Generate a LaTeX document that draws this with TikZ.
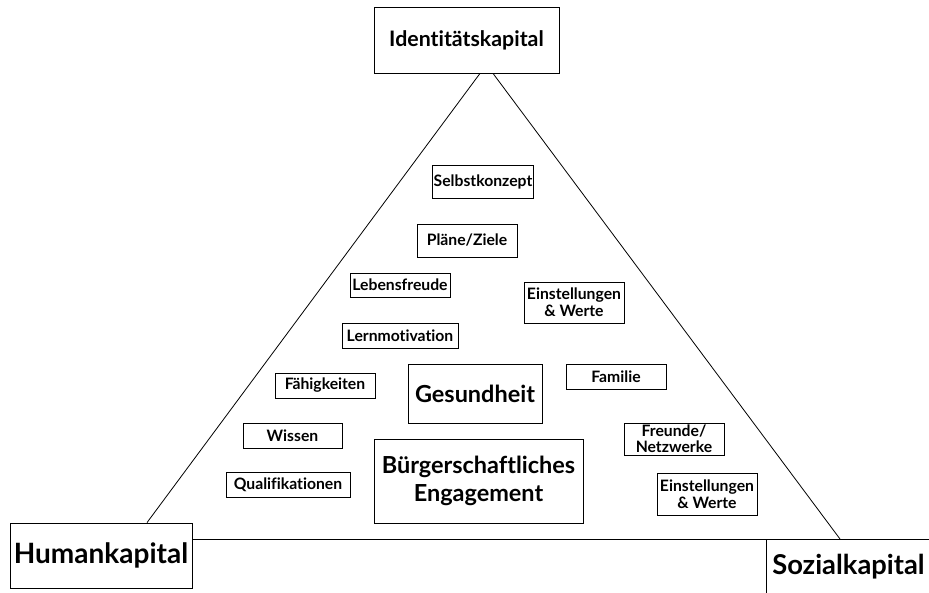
\documentclass[tikz,border=0pt]{standalone}
\usepackage{fontspec}
\setmainfont{Lato}[Ligatures=NoCommon]
\usetikzlibrary{calc,positioning}

\begin{document}
\begin{tikzpicture}
  [
    x=0.75pt,y=-0.75pt,
    every node/.style={font=\bfseries},
    item/.style={rectangle,draw=black,line width=0.6pt,inner sep=1pt,align=center,font=\bfseries\fontsize{11.8}{12.5}\selectfont,minimum width=75pt,minimum height=18.75pt},
    bigitem/.style={item,font=\bfseries\fontsize{17.6}{21.5}\selectfont},
    capital/.style={rectangle,draw=black,line width=0.6pt,inner sep=2pt,font=\bfseries\fontsize{21}{24}\selectfont},
    side/.style={draw=black,line width=0.6pt}
  ]
  \useasboundingbox (0,0) rectangle (929,593);

  % the three kinds of capital
  \node[capital,font=\bfseries\fontsize{16}{20}\selectfont,minimum width=138.75pt,minimum height=49.5pt] at (466.5,40) (ident) {Identitätskapital};
  \node[capital,minimum width=136.5pt,minimum height=48.75pt] at (101,555.5) (human) {Humankapital};
  \node[anchor=north west,inner xsep=4.5pt,inner ysep=0pt,minimum height=40.5pt,font=\bfseries\fontsize{20.5}{24}\selectfont] at (766,539) (sozial) {Sozialkapital};

  % what is inside the triangle
  \node[item,minimum height=24.75pt] at (483,181.5) (selbst) {Selbstkonzept};
  \node[item,minimum height=24.75pt] at (467,240.5) (plaene) {Pläne/Ziele};
  \node[item,minimum height=18pt] at (400,285) (lebens) {Lebensfreude};
  \node[item,minimum height=30.75pt] at (574,302.5) (werte oben) {Einstellungen\\\& Werte};
  \node[item,minimum width=87pt] at (400,335.5) (lern) {Lernmotivation};
  \node[item] at (325,385.5) (faehig) {Fähigkeiten};
  \node[item] at (616,376.5) (familie) {Familie};
  \node[item,minimum width=74.25pt] at (292.5,435.5) (wissen) {Wissen};
  \node[item,minimum width=93pt] at (288,484.5) (quali) {Qualifikationen};
  \node[item,minimum height=24pt,font=\bfseries\fontsize{11.8}{12}\selectfont] at (674,439) (freunde) {Freunde/\\Netzwerke};
  \node[item,minimum height=31.5pt] at (707,494) (werte unten) {Einstellungen\\\& Werte};
  \node[bigitem,minimum width=100.5pt,minimum height=44.25pt] at (475,393.5) (gesund) {Gesundheit};
  \node[bigitem,minimum width=156.75pt,minimum height=63pt] at (478.5,481) (buerger) {Bürgerschaftliches\\Engagement};

  % triangle and base
  \coordinate (base east) at (929,539);
  \coordinate (foot right) at (840,539);
  \draw[side] ($(ident.south)+(13.5,0)$) -- ($(human.north)+(46,0)$);
  \draw[side] ($(ident.south)+(26.5,0)$) -- (foot right);
  \draw[side] (human.east |- base east) -- (base east);
  \draw[side] (sozial.north west) -- (sozial.south west);
\end{tikzpicture}
\end{document}
